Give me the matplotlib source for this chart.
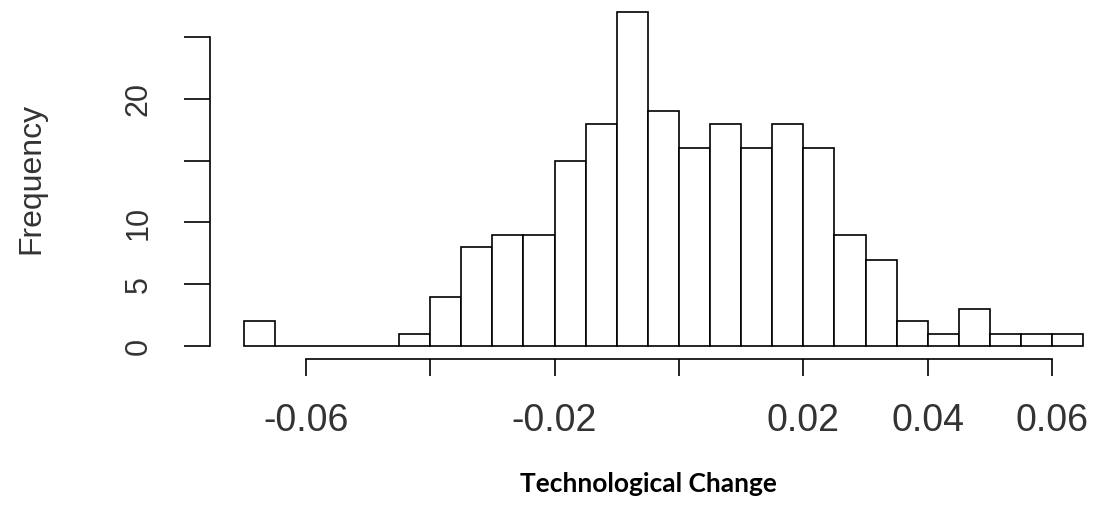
import numpy as np
import matplotlib
matplotlib.use("Agg")
import matplotlib.pyplot as plt

# histogram of technological change, bin width 0.005
bin_edges = np.round(np.arange(-0.07, 0.0651, 0.005), 3)
counts = [2, 0, 0, 0, 0, 1, 4, 8, 9, 9, 15, 18, 27, 19, 16, 18, 16, 18, 16, 9, 7, 2, 1, 3, 1, 1, 1]

x_ticks = [-0.06, -0.04, -0.02, 0.0, 0.02, 0.04, 0.06]
x_labels = ["-0.06", "", "-0.02", "", "0.02", "0.04", "0.06"]
y_ticks = [0, 5, 10, 15, 20, 25]
y_labels = ["0", "5", "10", "", "20", ""]

TXT = "#333333"
LW = 1.2

fig = plt.figure(figsize=(11, 5.07), dpi=100)
ax = fig.add_axes([210 / 1100, (507 - 359.4) / 507, 890 / 1100, 359.4 / 507])

ax.bar(bin_edges[:-1], counts, width=0.005, align="edge",
       facecolor="white", edgecolor="black", linewidth=LW)

ax.set_xlim(-0.0754, 0.0677)
ax.set_ylim(-1.08, 28.0)

for s in ("top", "right"):
    ax.spines[s].set_visible(False)
ax.spines["bottom"].set_bounds(-0.06, 0.06)
ax.spines["left"].set_bounds(0, 25)
for s in ("bottom", "left"):
    ax.spines[s].set_linewidth(LW)

ax.set_xticks(x_ticks)
ax.set_xticklabels(x_labels, fontsize=27, family="Liberation Sans", color=TXT)
ax.tick_params(axis="x", direction="out", length=12.2, width=LW, pad=19)

ax.set_yticks(y_ticks)
ax.set_yticklabels(y_labels, fontsize=22, family="Liberation Sans", color=TXT,
                   rotation=90, va="center")
ax.tick_params(axis="y", direction="out", length=18.7, width=LW, pad=22)

fig.text(31 / 1100, 1 - 178 / 507, "Frequency", rotation=90, ha="center", va="center",
         fontsize=23, family="Liberation Sans", color=TXT)
fig.text(648.5 / 1100, 1 - 484 / 507, "Technological Change", ha="center", va="center",
         fontsize=19, family="Lato", fontweight="bold", color="black")

fig.savefig("out.png", dpi=100, facecolor="white")
